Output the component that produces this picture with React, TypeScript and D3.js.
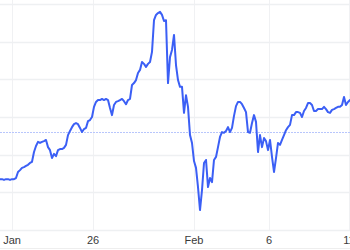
import React from "react";
import * as d3 from "d3";

const prices: number[] = [
  101.35, 101.35, 101.33, 101.35, 101.35, 101.33, 101.35, 101.35, 101.38, 101.54,
  101.59, 101.65, 101.67, 101.70, 101.73, 101.78, 101.81, 102.07, 102.23, 102.34,
  102.31, 102.34, 102.36, 102.39, 102.20, 102.12, 101.91, 102.02, 101.96, 102.12,
  102.15, 102.15, 102.18, 102.26, 102.52, 102.63, 102.73, 102.81, 102.84, 102.81,
  102.71, 102.60, 102.68, 102.71, 102.89, 102.92, 103.00, 103.27, 103.40, 103.45,
  103.45, 103.48, 103.45, 103.48, 103.45, 103.24, 103.05, 103.32, 103.40, 103.42,
  103.45, 103.48, 103.42, 103.34, 103.45, 103.48, 103.85, 103.90, 103.98, 104.17,
  104.25, 104.46, 104.41, 104.33, 104.41, 104.46, 104.73, 105.57, 105.71, 105.76,
  105.79, 105.71, 105.55, 105.57, 103.90, 104.59, 104.78, 105.18, 104.38, 103.98,
  103.80, 103.80, 103.11, 103.58, 103.27, 102.52, 102.31, 101.83, 101.65, 101.14,
  100.53, 101.06, 101.78, 101.86, 101.14, 101.38, 101.27, 101.86, 101.94, 102.20,
  102.47, 102.60, 102.58, 102.63, 102.73, 102.60, 102.71, 103.03, 103.29, 103.40,
  103.40, 103.34, 103.24, 103.13, 102.60, 102.58, 102.84, 103.05, 102.87, 102.07,
  102.52, 102.20, 102.44, 102.36, 102.12, 102.39, 101.94, 101.54, 101.91, 102.31,
  102.26, 102.39, 102.52, 102.65, 102.73, 102.79, 103.05, 103.05, 103.13, 103.13,
  103.11, 103.00, 103.16, 103.24, 103.37, 103.37, 103.32, 103.16, 103.16, 103.21,
  103.21, 103.21, 103.27, 103.21, 103.13, 103.11, 103.19, 103.21, 103.24, 103.27,
  103.27, 103.32, 103.53, 103.32, 103.40, 103.45,
];

const baseline = 102.6;
const gridLevels: number[] = [100, 101, 102, 103, 104, 105, 106];
const tickIndex: number[] = [6, 46.5, 97, 134.5, 174.5];
const tickLabels: string[] = ["Jan", "26", "Feb", "6", "11"];

const W = 350;
const H = 250;
const paneBottom = 230;

export default function App() {
  const x = d3.scaleLinear().domain([0, prices.length - 1]).range([0, W]);
  const y = d3.scaleLinear().domain([100, 106]).range([paneBottom, 4]);
  const line = d3
    .line<number>()
    .x((_, i) => x(i))
    .y((d) => y(d))
    .curve(d3.curveLinear);

  return (
    <svg
      width={W}
      height={H}
      style={{ position: "fixed", left: 0, top: 0, background: "#fff" }}
    >
      <rect x={0} y={0} width={W} height={H} fill="#fff" />
      <g>
        {tickIndex.map((t, i) => (
          <line
            key={"vg" + i}
            x1={Math.round(x(t)) + 0.5}
            x2={Math.round(x(t)) + 0.5}
            y1={0}
            y2={paneBottom}
            stroke="#f0f1f3"
            strokeWidth={1}
          />
        ))}
        {gridLevels.map((g, i) => (
          <line
            key={"hg" + i}
            x1={0}
            x2={W}
            y1={Math.round(y(g)) + 0.5}
            y2={Math.round(y(g)) + 0.5}
            stroke="#eef0f2"
            strokeWidth={1.5}
          />
        ))}
      </g>
      <line
        x1={0}
        x2={W}
        y1={Math.round(y(baseline)) + 0.5}
        y2={Math.round(y(baseline)) + 0.5}
        stroke="#b8c6fc"
        strokeWidth={1}
        strokeDasharray="2 1"
      />
      <path
        d={line(prices) || ""}
        fill="none"
        stroke="#3b5ff5"
        strokeWidth={2}
        strokeLinejoin="round"
        strokeLinecap="round"
      />
      <line x1={0} x2={W} y1={248.5} y2={248.5} stroke="#eeeeee" strokeWidth={1} />
      {tickIndex.map((t, i) => (
        <text
          key={"tl" + i}
          x={x(t)}
          y={244}
          textAnchor="middle"
          fontFamily="'Liberation Sans', Arial, sans-serif"
          fontSize={11}
          fill="#3a3a3a"
        >
          {tickLabels[i]}
        </text>
      ))}
    </svg>
  );
}
